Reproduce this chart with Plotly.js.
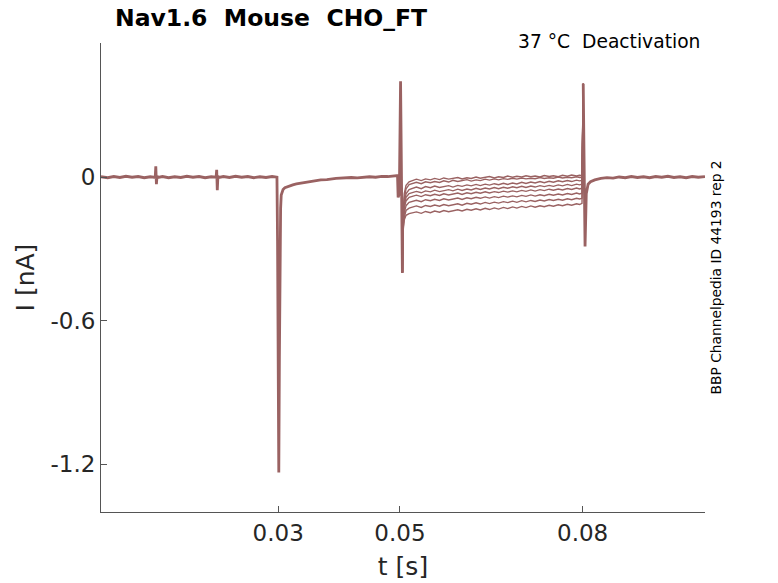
<!DOCTYPE html>
<html>
<head>
<meta charset="utf-8">
<script src="https://cdn.plot.ly/plotly-3.0.1.min.js"></script>
<style>
  html, body { margin: 0; padding: 0; background: #fff; }
  #plot { width: 778px; height: 583px; }
</style>
</head>
<body>
<div id="plot"></div>
<script>
// baseline + activation pulse (all sweeps overlap here)
var tPre = [0.0009, 0.002, 0.003, 0.004, 0.005, 0.006, 0.007, 0.008, 0.009,
  0.0098, 0.0099, 0.0100, 0.0101, 0.0103,
  0.011, 0.012, 0.013, 0.014, 0.015, 0.016, 0.017, 0.018, 0.019,
  0.0198, 0.0199, 0.0200, 0.0201, 0.0203,
  0.021, 0.022, 0.023, 0.024, 0.025, 0.026, 0.027, 0.028, 0.029,
  0.0298, 0.0299, 0.0301, 0.0302, 0.0303, 0.0304, 0.0305, 0.0308,
  0.0311, 0.0317, 0.0324, 0.033, 0.034, 0.0351, 0.036, 0.037, 0.038, 0.0395,
  0.041, 0.042, 0.043, 0.044, 0.045, 0.046, 0.047, 0.048, 0.049, 0.0496];
var iPre = [0.001, -0.003, 0.002, -0.002, 0.003, -0.001, 0.002, -0.003, 0.001,
  -0.002, 0.045, -0.030, 0.004, -0.002,
  0.002, -0.003, 0.001, -0.002, 0.003, -0.001, 0.002, -0.003, 0.001,
  -0.001, 0.030, -0.055, 0.003, -0.002,
  0.002, -0.002, 0.003, -0.001, 0.002, -0.003, 0.001, -0.002, 0.002,
  -0.001, -0.28, -1.235, -0.75, -0.30, -0.13, -0.075, -0.052,
  -0.045, -0.038, -0.033, -0.029, -0.024, -0.018, -0.016, -0.012, -0.011, -0.006,
  -0.004, -0.002, -0.004, 0.000, 0.001, -0.001, 0.003, 0.002, 0.005, 0.006];

// capacitive transient at the step to the deactivation potential
var tOn = [0.0497, 0.0499, 0.0501, 0.0502, 0.0504];
var iOn = [-0.085, -0.07, 0.40, 0.0, -0.40];

// tail currents, one row per sweep
var tTail = [0.0505, 0.0507, 0.051, 0.0515,
  0.052, 0.0527, 0.0535, 0.0542, 0.055, 0.0557, 0.0565, 0.0572, 0.058, 0.0587,
  0.0595, 0.0602, 0.061, 0.0617, 0.0625, 0.0632, 0.064, 0.0647, 0.0655, 0.0662,
  0.067, 0.0677, 0.0685, 0.0692, 0.07, 0.0707, 0.0715, 0.0722, 0.073, 0.0737,
  0.0745, 0.0752, 0.076, 0.0767, 0.0775, 0.0782, 0.079, 0.0795, 0.0799];
var iTail = [
  [-0.16, -0.07, -0.035, -0.02,
   -0.014, -0.009, -0.015, -0.008, -0.012, -0.006, -0.011, -0.004, -0.009, -0.005,
   -0.002, -0.008, -0.003, -0.006, 0.000, -0.005, -0.001, 0.002, -0.004, 0.001,
   -0.002, 0.004, -0.001, 0.003, 0.000, 0.005, 0.001, 0.004, 0.000, 0.006,
   0.002, 0.005, 0.001, 0.007, 0.003, 0.008, 0.004, 0.007, 0.005],
  [-0.17, -0.09, -0.05, -0.032,
   -0.027, -0.022, -0.028, -0.020, -0.024, -0.019, -0.023, -0.016, -0.021, -0.014,
   -0.019, -0.015, -0.011, -0.017, -0.012, -0.015, -0.009, -0.013, -0.008, -0.012,
   -0.007, -0.010, -0.005, -0.009, -0.004, -0.008, -0.005, -0.007, -0.002, -0.006,
   -0.003, -0.005, 0.000, -0.004, -0.001, -0.003, 0.001, -0.002, -0.001],
  [-0.18, -0.11, -0.07, -0.053,
   -0.047, -0.042, -0.049, -0.040, -0.045, -0.038, -0.044, -0.041, -0.036, -0.042,
   -0.035, -0.039, -0.033, -0.037, -0.031, -0.036, -0.030, -0.034, -0.028, -0.032,
   -0.026, -0.031, -0.025, -0.029, -0.022, -0.027, -0.021, -0.025, -0.019, -0.024,
   -0.018, -0.022, -0.016, -0.020, -0.015, -0.019, -0.013, -0.016, -0.014],
  [-0.19, -0.12, -0.085, -0.069,
   -0.064, -0.060, -0.066, -0.058, -0.062, -0.055, -0.061, -0.057, -0.053, -0.058,
   -0.051, -0.056, -0.050, -0.054, -0.047, -0.052, -0.046, -0.050, -0.044, -0.049,
   -0.043, -0.047, -0.041, -0.045, -0.039, -0.044, -0.038, -0.042, -0.036, -0.040,
   -0.035, -0.039, -0.033, -0.037, -0.031, -0.036, -0.030, -0.033, -0.030],
  [-0.20, -0.13, -0.10, -0.085,
   -0.080, -0.076, -0.082, -0.074, -0.078, -0.072, -0.077, -0.070, -0.075, -0.071,
   -0.067, -0.073, -0.066, -0.070, -0.064, -0.068, -0.062, -0.067, -0.061, -0.065,
   -0.059, -0.063, -0.058, -0.062, -0.056, -0.060, -0.054, -0.059, -0.053, -0.057,
   -0.051, -0.055, -0.050, -0.054, -0.048, -0.052, -0.046, -0.050, -0.047],
  [-0.21, -0.15, -0.12, -0.106,
   -0.101, -0.097, -0.103, -0.095, -0.099, -0.093, -0.098, -0.091, -0.096, -0.092,
   -0.088, -0.094, -0.087, -0.091, -0.085, -0.089, -0.083, -0.088, -0.082, -0.086,
   -0.080, -0.084, -0.079, -0.083, -0.077, -0.081, -0.075, -0.080, -0.074, -0.078,
   -0.072, -0.076, -0.071, -0.075, -0.069, -0.073, -0.067, -0.071, -0.068],
  [-0.22, -0.17, -0.14, -0.130,
   -0.126, -0.121, -0.127, -0.119, -0.123, -0.117, -0.122, -0.115, -0.120, -0.116,
   -0.112, -0.118, -0.110, -0.114, -0.108, -0.113, -0.106, -0.111, -0.105, -0.109,
   -0.103, -0.107, -0.101, -0.106, -0.099, -0.104, -0.098, -0.102, -0.096, -0.100,
   -0.094, -0.098, -0.093, -0.097, -0.091, -0.095, -0.089, -0.092, -0.089],
  [-0.23, -0.18, -0.16, -0.153,
   -0.151, -0.146, -0.152, -0.144, -0.149, -0.142, -0.147, -0.140, -0.145, -0.141,
   -0.137, -0.142, -0.135, -0.139, -0.133, -0.138, -0.131, -0.136, -0.129, -0.134,
   -0.127, -0.132, -0.125, -0.130, -0.123, -0.128, -0.121, -0.126, -0.120, -0.124,
   -0.118, -0.122, -0.116, -0.120, -0.114, -0.118, -0.112, -0.115, -0.110]
];

// transient at the step back to holding, then baseline
var tOff = [0.0801, 0.0803, 0.0804, 0.0806, 0.0809, 0.0813, 0.082, 0.083, 0.084, 0.085,
  0.086, 0.087, 0.088, 0.089, 0.090, 0.091, 0.092, 0.093, 0.094, 0.095,
  0.096, 0.097, 0.098, 0.099, 0.1001];
var iOff = [0.39, 0.02, -0.29, -0.07, -0.03, -0.02, -0.012, -0.006, -0.003, -0.005,
  0.000, -0.003, 0.002, -0.002, 0.001, -0.003, 0.002, -0.001, 0.003, -0.002,
  0.001, -0.003, 0.002, -0.001, 0.002];

var col = '#9a6262';
var txt = '#262626';
var font = 'DejaVu Sans, sans-serif';

var data = [];
data.push({
  x: tPre.concat(tOn), y: iPre.concat(iOn),
  mode: 'lines', type: 'scatter', line: {color: col, width: 2.8}, hoverinfo: 'skip'
});
for (var k = 0; k < iTail.length; k++) {
  data.push({
    x: tOn.slice(-1).concat(tTail, tOff.slice(0, 1)),
    y: iOn.slice(-1).concat(iTail[k], iOff.slice(0, 1)),
    mode: 'lines', type: 'scatter', line: {color: col, width: 1.4}, hoverinfo: 'skip'
  });
}
data.push({
  x: tOff, y: iOff,
  mode: 'lines', type: 'scatter', line: {color: col, width: 2.8}, hoverinfo: 'skip'
});

var lay = {
  width: 778, height: 583,
  margin: {l: 101, r: 73, t: 43, b: 71, pad: 0},
  paper_bgcolor: '#fff', plot_bgcolor: '#fff',
  showlegend: false,
  font: {family: font, color: txt},
  xaxis: {
    range: [0.0009, 0.1001],
    tickvals: [0.03, 0.05, 0.08], ticktext: ['0.03', '0.05', '0.08'],
    ticks: 'inside', ticklen: 6, tickcolor: '#555',
    tickfont: {size: 23, color: txt},
    showline: true, linecolor: '#555', linewidth: 1,
    showgrid: false, zeroline: false,
    title: {text: 't [s]', font: {size: 25, color: txt}, standoff: 12}
  },
  yaxis: {
    range: [-1.4, 0.56],
    tickvals: [-1.2, -0.6, 0], ticktext: ['-1.2', '-0.6', '0'],
    ticks: 'inside', ticklen: 6, tickcolor: '#555',
    tickfont: {size: 23, color: txt},
    showline: true, linecolor: '#555', linewidth: 1,
    showgrid: false, zeroline: false,
    title: {text: 'I [nA]', font: {size: 25, color: txt}, standoff: 8}
  },
  annotations: [
    {text: '<b>Nav1.6  Mouse  CHO_FT</b>', xref: 'paper', yref: 'paper',
      x: 0.02, y: 1.053, xanchor: 'left', yanchor: 'middle', showarrow: false,
      font: {size: 23.5, color: '#000'}},
    {text: '37 °C  Deactivation', xref: 'paper', yref: 'paper',
      x: 0.995, y: 1.004, xanchor: 'right', yanchor: 'middle', showarrow: false,
      font: {size: 18.7, color: '#000'}},
    {text: 'BBP Channelpedia ID 44193 rep 2', xref: 'paper', yref: 'paper',
      x: 1.019, y: 0.501, xanchor: 'center', yanchor: 'middle', showarrow: false,
      textangle: -90, font: {size: 13.8, color: '#000'}}
  ]
};

Plotly.newPlot('plot', data, lay, {displayModeBar: false, staticPlot: true});
</script>
</body>
</html>
